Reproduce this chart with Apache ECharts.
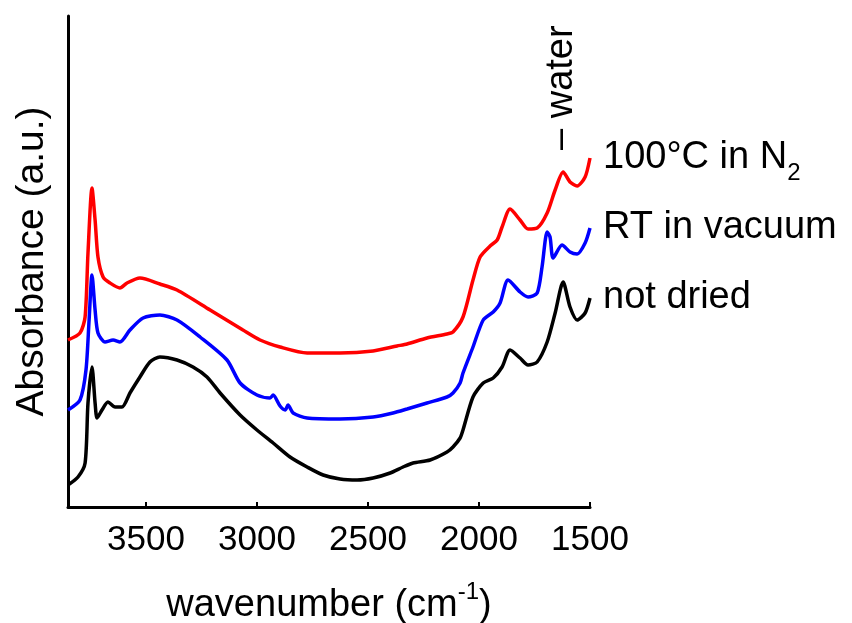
<!DOCTYPE html>
<html>
<head>
<meta charset="utf-8">
<script src="https://cdn.jsdelivr.net/npm/echarts@6/dist/echarts.min.js"></script>
<style>
  html, body { margin: 0; padding: 0; background: #fff; }
  #chart_ir { width: 852px; height: 623px; }
</style>
</head>
<body>
<div id="chart_ir"></div>
<script>
// 读图得到的数据: [波数 cm-1, 吸光度 (任意单位)]
var xTicks = [3500, 3000, 2500, 2000, 1500];

var notDried = [
  [3851, 0.22], [3806, 0.30], [3774, 0.44], [3761, 1.04], [3743, 1.40], [3729, 1.04],
  [3720, 0.89], [3698, 0.97], [3671, 1.05], [3639, 1.00], [3608, 1.00], [3572, 1.14],
  [3527, 1.30], [3482, 1.45], [3437, 1.50], [3360, 1.47], [3288, 1.40], [3225, 1.30],
  [3166, 1.14], [3076, 0.92], [3000, 0.77], [2927, 0.64], [2851, 0.50], [2774, 0.40],
  [2702, 0.32], [2626, 0.28], [2549, 0.27], [2477, 0.29], [2400, 0.34], [2342, 0.40],
  [2297, 0.44], [2220, 0.47], [2144, 0.55], [2117, 0.60], [2085, 0.69], [2072, 0.77],
  [2027, 1.10], [1981, 1.24], [1936, 1.29], [1896, 1.40], [1860, 1.57], [1815, 1.49],
  [1779, 1.42], [1738, 1.45], [1693, 1.65], [1657, 1.94], [1621, 2.25], [1590, 2.00],
  [1558, 1.87], [1522, 1.94], [1500, 2.09]
];

var rtVacuum = [
  [3851, 0.97], [3797, 1.07], [3770, 1.37], [3756, 1.87], [3743, 2.32], [3729, 1.97],
  [3716, 1.74], [3684, 1.65], [3648, 1.67], [3617, 1.65], [3572, 1.77], [3513, 1.89],
  [3437, 1.92], [3360, 1.87], [3256, 1.70], [3135, 1.47], [3076, 1.24], [3000, 1.12],
  [2941, 1.09], [2927, 1.12], [2896, 1.01], [2873, 0.97], [2860, 1.02], [2837, 0.94],
  [2774, 0.89], [2626, 0.88], [2477, 0.90], [2387, 0.94], [2324, 0.98], [2234, 1.04],
  [2144, 1.10], [2117, 1.14], [2085, 1.24], [2072, 1.34], [2027, 1.60], [1981, 1.87],
  [1936, 1.95], [1905, 2.04], [1869, 2.27], [1815, 2.15], [1779, 2.10], [1738, 2.14],
  [1716, 2.40], [1693, 2.75], [1680, 2.70], [1666, 2.49], [1626, 2.62], [1590, 2.55],
  [1558, 2.53], [1522, 2.64], [1500, 2.79]
];

var n2100 = [
  [3851, 1.67], [3797, 1.74], [3774, 1.90], [3761, 2.54], [3743, 3.19], [3729, 2.87],
  [3716, 2.50], [3693, 2.30], [3662, 2.24], [3617, 2.19], [3585, 2.24], [3527, 2.29],
  [3437, 2.23], [3360, 2.17], [3211, 1.97], [3063, 1.77], [2986, 1.67], [2896, 1.60],
  [2774, 1.54], [2626, 1.54], [2477, 1.56], [2369, 1.61], [2324, 1.63], [2234, 1.69],
  [2144, 1.73], [2117, 1.75], [2072, 1.90], [2027, 2.27], [1995, 2.50], [1950, 2.61],
  [1918, 2.67], [1896, 2.80], [1860, 2.98], [1815, 2.87], [1779, 2.78], [1738, 2.79],
  [1693, 2.94], [1657, 3.17], [1621, 3.35], [1590, 3.25], [1558, 3.21], [1522, 3.30],
  [1500, 3.49]
];

var seriesNames = ['not dried', 'RT in vacuum', '100°C in N{sub|2}'];
var seriesColors = ['#000000', '#0000ff', '#ff0000'];

var myChart = echarts.init(document.getElementById('chart_ir'));
var fontName = '"Liberation Sans", Arial, sans-serif';

function makeSeries(name, data, color) {
  return {
    type: 'line',
    name: name,
    data: data,
    showSymbol: false,
    smooth: 0.25,
    lineStyle: { color: color, width: 3.5 },
    // x轴反向, 标签放在曲线右端
    endLabel: {
      show: true,
      distance: -13,
      align: 'left',
      formatter: name,
      color: '#000',
      fontFamily: fontName,
      fontSize: 38,
      rich: {
        sub: { fontSize: 24, fontFamily: fontName, color: '#000', padding: [30, 0, 0, 0] }
      }
    }
  };
}

var option = {
  animation: false,
  grid: { left: 68, right: 262, top: 16, bottom: 116, outerBoundsMode: 'none' },
  xAxis: {
    type: 'value',
    inverse: true,
    min: 1500,
    max: 3851,
    interval: 500,
    name: '{a|wavenumber (cm}{s|-1}{a|)}',
    nameLocation: 'middle',
    nameGap: 66,
    nameTextStyle: {
      rich: {
        a: { fontSize: 38, fontFamily: fontName, color: '#000', padding: [14, 0, 0, 0] },
        s: { fontSize: 24, fontFamily: fontName, color: '#000', padding: [0, 0, 14, 0] }
      }
    },
    axisLine: { lineStyle: { color: '#000', width: 3 } },
    axisTick: { inside: true, length: 5, lineStyle: { color: '#000', width: 2 } },
    axisLabel: {
      margin: 16,
      fontSize: 35,
      fontFamily: fontName,
      color: '#000',
      formatter: function (v) { return xTicks.indexOf(v) >= 0 ? v : ''; }
    },
    splitLine: { show: false }
  },
  yAxis: {
    type: 'value',
    min: 0,
    max: 4.91,
    name: 'Absorbance (a.u.)',
    nameLocation: 'middle',
    nameGap: 16,
    nameTextStyle: { fontSize: 39, fontFamily: fontName, color: '#000' },
    axisLine: { show: true, lineStyle: { color: '#000', width: 3 } },
    axisTick: { show: false },
    axisLabel: { show: false },
    splitLine: { show: false }
  },
  graphic: [{
    type: 'text',
    x: 562,
    y: 150,
    rotation: Math.PI / 2,
    style: {
      text: '– water',
      fontSize: 38,
      fontFamily: fontName,
      fill: '#000',
      textAlign: 'left',
      textVerticalAlign: 'middle'
    }
  }],
  series: [
    makeSeries(seriesNames[0], notDried, seriesColors[0]),
    makeSeries(seriesNames[1], rtVacuum, seriesColors[1]),
    makeSeries(seriesNames[2], n2100, seriesColors[2])
  ]
};

myChart.setOption(option);
window.addEventListener('resize', function () {
  myChart.resize();
});
</script>
</body>
</html>
